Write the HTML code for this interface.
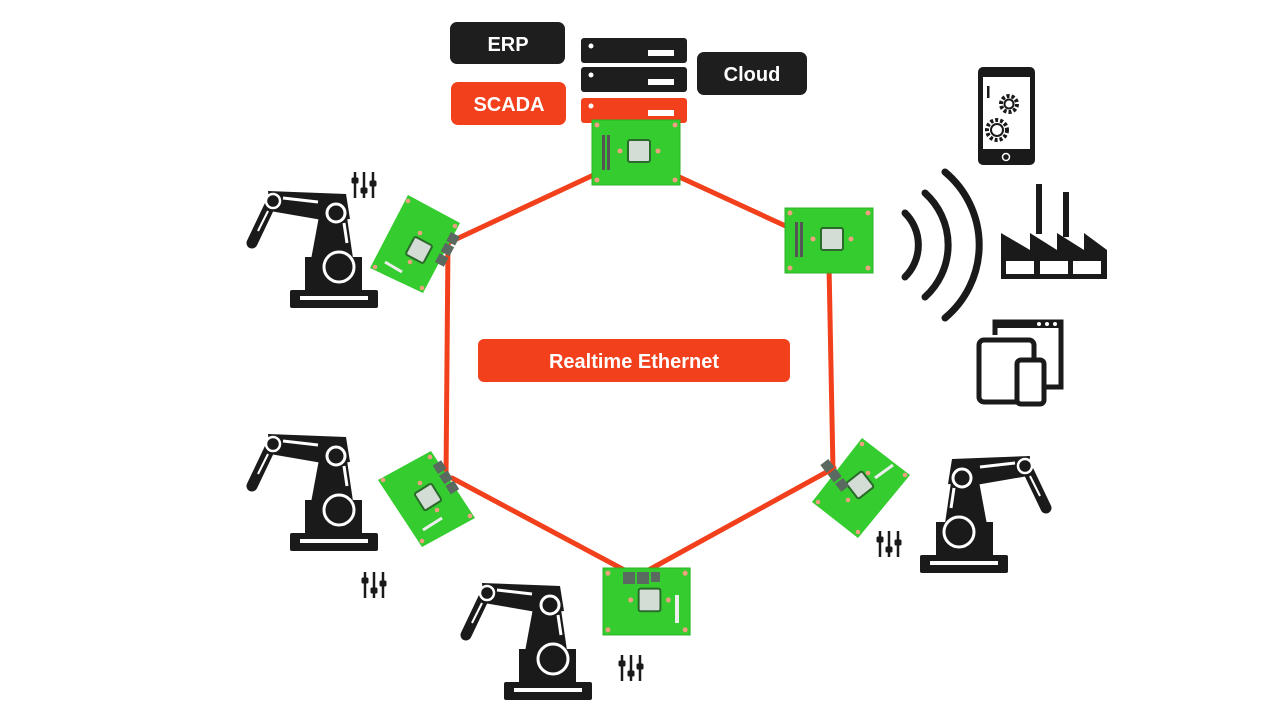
<!DOCTYPE html>
<html><head><meta charset="utf-8"><style>
html,body{margin:0;padding:0;background:#fff;width:1280px;height:723px;overflow:hidden}
text{font-family:"Liberation Sans",sans-serif;font-weight:bold;fill:#fff}
</style></head><body>
<svg width="1280" height="723" viewBox="0 0 1280 723" xmlns="http://www.w3.org/2000/svg">
<defs>
<g id="robot">
  <rect x="42" y="101" width="88" height="18" rx="2" fill="#1a1a1a"/>
  <rect x="52" y="107" width="68" height="4" fill="#fff"/>
  <rect x="57" y="68" width="57" height="35" fill="#1a1a1a"/>
  <polygon points="62,76 72,22 96,8 106,76" fill="#1a1a1a"/>
  <polygon points="20,2 98,5 102,30 80,32 22,22" fill="#1a1a1a"/>
  <line x1="24" y1="12" x2="4" y2="54" stroke="#1a1a1a" stroke-width="11" stroke-linecap="round"/>
  <line x1="20" y1="22" x2="10" y2="42" stroke="#fff" stroke-width="2"/>
  <line x1="35" y1="9" x2="70" y2="13" stroke="#fff" stroke-width="3"/>
  <line x1="96" y1="34" x2="99" y2="54" stroke="#fff" stroke-width="3"/>
  <circle cx="25" cy="12" r="7" fill="#1a1a1a" stroke="#fff" stroke-width="2.5"/>
  <circle cx="88" cy="24" r="9" fill="#1a1a1a" stroke="#fff" stroke-width="3"/>
  <circle cx="91" cy="78" r="15" fill="#1a1a1a" stroke="#fff" stroke-width="3"/>
</g>
<g id="sliders" fill="#1a1a1a" stroke="#1a1a1a">
  <line x1="3" y1="0" x2="3" y2="26" stroke-width="2.5"/>
  <line x1="12" y1="0" x2="12" y2="26" stroke-width="2.5"/>
  <line x1="21" y1="0" x2="21" y2="26" stroke-width="2.5"/>
  <rect x="0" y="6" width="6" height="5" rx="1"/>
  <rect x="9" y="16" width="6" height="5" rx="1"/>
  <rect x="18" y="9" width="6" height="5" rx="1"/>
</g>
<g id="board">
  <rect x="0" y="0" width="88" height="65" fill="#34cc2e" stroke="#2bb526" stroke-width="1"/>
  <rect x="36" y="20" width="22" height="22" rx="2" fill="#d4dcd6" stroke="#2a6a2a" stroke-width="2"/>
  <g fill="#f0a080"><circle cx="5" cy="5" r="2.5"/><circle cx="83" cy="5" r="2.5"/><circle cx="5" cy="60" r="2.5"/><circle cx="83" cy="60" r="2.5"/><circle cx="28" cy="31" r="2.5"/><circle cx="66" cy="31" r="2.5"/></g>
</g>
<g id="chip"><rect x="-10" y="-10" width="20" height="20" rx="2" fill="#d4dcd6" stroke="#2a6a2a" stroke-width="2"/></g>
</defs>

<!-- red ring -->
<g stroke="#f2401c" stroke-width="5" fill="none" stroke-linecap="round">
  <line x1="675" y1="175" x2="790" y2="228"/>
  <line x1="600" y1="172" x2="450" y2="242"/>
  <line x1="448" y1="242" x2="446" y2="478"/>
  <line x1="829" y1="265" x2="833" y2="470"/>
  <line x1="452" y1="478" x2="628" y2="572"/>
  <line x1="645" y1="572" x2="834" y2="468"/>
</g>

<!-- top items -->
<rect x="450" y="22" width="115" height="42" rx="7" fill="#1e1e1e"/>
<text x="508" y="51" font-size="20" text-anchor="middle">ERP</text>
<rect x="451" y="82" width="115" height="43" rx="7" fill="#f2401c"/>
<text x="509" y="111" font-size="20" text-anchor="middle">SCADA</text>
<rect x="697" y="52" width="110" height="43" rx="7" fill="#1e1e1e"/>
<text x="752" y="81" font-size="20" text-anchor="middle">Cloud</text>
<g>
  <rect x="581" y="38" width="106" height="25" rx="3" fill="#1e1e1e"/>
  <circle cx="591" cy="46" r="2.5" fill="#fff"/><rect x="648" y="50" width="26" height="6" fill="#fff"/>
  <rect x="581" y="67" width="106" height="25" rx="3" fill="#1e1e1e"/>
  <circle cx="591" cy="75" r="2.5" fill="#fff"/><rect x="648" y="79" width="26" height="6" fill="#fff"/>
  <rect x="581" y="98" width="106" height="25" rx="3" fill="#f2401c"/>
  <circle cx="591" cy="106" r="2.5" fill="#fff"/><rect x="648" y="110" width="26" height="6" fill="#fff"/>
</g>

<!-- boards -->
<use href="#board" transform="translate(592,120)"/>
<rect x="602" y="135" width="3" height="35" fill="#555"/><rect x="607" y="135" width="3" height="35" fill="#555"/>
<use href="#board" transform="translate(785,208)"/>
<rect x="795" y="222" width="3" height="35" fill="#555"/><rect x="800" y="222" width="3" height="35" fill="#555"/>
<use href="#board" transform="translate(603,568) scale(0.99,1.03)"/>
<g fill="#5a6a60"><rect x="623" y="572" width="12" height="12"/><rect x="637" y="572" width="12" height="12"/><rect x="651" y="572" width="9" height="10"/></g>
<rect x="675" y="595" width="4" height="28" fill="#eee"/>

<!-- upper-left board -->
<polygon points="408,195 460,223 423,293 370,268" fill="#34cc2e"/>
<use href="#chip" transform="translate(419,250) rotate(28)"/>
<g fill="#5a6a60" transform="rotate(28 446 252)"><rect x="441" y="232" width="10" height="10"/><rect x="441" y="244" width="10" height="10"/><rect x="441" y="256" width="10" height="10"/></g>
<line x1="385" y1="262" x2="402" y2="272" stroke="#eee" stroke-width="3"/>
<g fill="#f0a080"><circle cx="408" cy="201" r="2.3"/><circle cx="455" cy="226" r="2.3"/><circle cx="375" cy="267" r="2.3"/><circle cx="422" cy="288" r="2.3"/><circle cx="420" cy="233" r="2.3"/><circle cx="410" cy="262" r="2.3"/></g>

<!-- lower-left board -->
<polygon points="431,451 475,518 422,547 378,480" fill="#34cc2e"/>
<use href="#chip" transform="translate(428,497) rotate(-32)"/>
<g fill="#5a6a60" transform="rotate(-32 447 479)"><rect x="442" y="460" width="10" height="10"/><rect x="442" y="472" width="10" height="10"/><rect x="442" y="484" width="10" height="10"/></g>
<line x1="423" y1="530" x2="442" y2="518" stroke="#eee" stroke-width="3"/>
<g fill="#f0a080"><circle cx="430" cy="457" r="2.3"/><circle cx="470" cy="516" r="2.3"/><circle cx="383" cy="480" r="2.3"/><circle cx="422" cy="541" r="2.3"/><circle cx="420" cy="483" r="2.3"/><circle cx="437" cy="510" r="2.3"/></g>

<!-- lower-right board -->
<polygon points="862,438 910,475 858,538 812,502" fill="#34cc2e"/>
<use href="#chip" transform="translate(860,485) rotate(-38)"/>
<g fill="#5a6a60" transform="rotate(-38 836 477)"><rect x="831" y="458" width="10" height="10"/><rect x="831" y="470" width="10" height="10"/><rect x="831" y="482" width="10" height="10"/></g>
<line x1="875" y1="478" x2="893" y2="465" stroke="#eee" stroke-width="3"/>
<g fill="#f0a080"><circle cx="862" cy="444" r="2.3"/><circle cx="905" cy="475" r="2.3"/><circle cx="818" cy="502" r="2.3"/><circle cx="858" cy="532" r="2.3"/><circle cx="868" cy="473" r="2.3"/><circle cx="848" cy="500" r="2.3"/></g>

<!-- robots -->
<use href="#robot" transform="translate(248,189)"/>
<use href="#robot" transform="translate(248,432)"/>
<use href="#robot" transform="translate(462,581)"/>
<use href="#robot" transform="translate(1050,454) scale(-1,1)"/>

<!-- sliders -->
<use href="#sliders" transform="translate(352,172)"/>
<use href="#sliders" transform="translate(362,572)"/>
<use href="#sliders" transform="translate(619,655)"/>
<use href="#sliders" transform="translate(877,531)"/>

<!-- Realtime Ethernet -->
<rect x="478" y="339" width="312" height="43" rx="6" fill="#f2401c"/>
<text x="634" y="368" font-size="20" text-anchor="middle">Realtime Ethernet</text>

<!-- wifi arcs -->
<g stroke="#1a1a1a" stroke-width="7" fill="none" stroke-linecap="round">
  <path d="M905,213 A45,45 0 0 1 905,277"/>
  <path d="M925,193 A70,70 0 0 1 925,297"/>
  <path d="M945,172 A95,95 0 0 1 945,318"/>
</g>

<!-- phone -->
<rect x="978" y="67" width="57" height="98" rx="5" fill="#1a1a1a"/>
<rect x="983" y="77" width="47" height="72" fill="#fff"/>
<circle cx="1006" cy="157" r="3.5" fill="none" stroke="#fff" stroke-width="1.5"/>
<rect x="987" y="86" width="2.5" height="12" fill="#1a1a1a"/>
<circle cx="1009" cy="104" r="8" fill="none" stroke="#1a1a1a" stroke-width="4" stroke-dasharray="3 2"/>
<circle cx="1009" cy="104" r="4.5" fill="none" stroke="#1a1a1a" stroke-width="2"/>
<circle cx="997" cy="130" r="10" fill="none" stroke="#1a1a1a" stroke-width="4" stroke-dasharray="3 2"/>
<circle cx="997" cy="130" r="6" fill="none" stroke="#1a1a1a" stroke-width="2"/>

<!-- factory -->
<g fill="#1a1a1a">
  <rect x="1036" y="184" width="6" height="50"/>
  <rect x="1063" y="192" width="6" height="45"/>
  <polygon points="1001,233 1001,258 1107,258 1107,250 1084,233 1084,250 1057,233 1057,250 1030,233 1030,250"/>
  <rect x="1001" y="255" width="106" height="24"/>
</g>
<g fill="#fff"><rect x="1006" y="261" width="28" height="13"/><rect x="1040" y="261" width="28" height="13"/><rect x="1073" y="261" width="28" height="13"/></g>

<!-- devices -->
<g fill="none" stroke="#1a1a1a">
  <path d="M995,335 V322 H1061 V387 H1043" stroke-width="5"/>
  <rect x="979" y="340" width="55" height="62" rx="5" stroke-width="5"/>
  <rect x="1017" y="360" width="27" height="44" rx="4" fill="#fff" stroke-width="5"/>
</g>
<rect x="995" y="320" width="68" height="8" fill="#1a1a1a"/>
<g fill="#fff"><circle cx="1039" cy="324" r="2"/><circle cx="1047" cy="324" r="2"/><circle cx="1055" cy="324" r="2"/></g>
</svg>
</body></html>
